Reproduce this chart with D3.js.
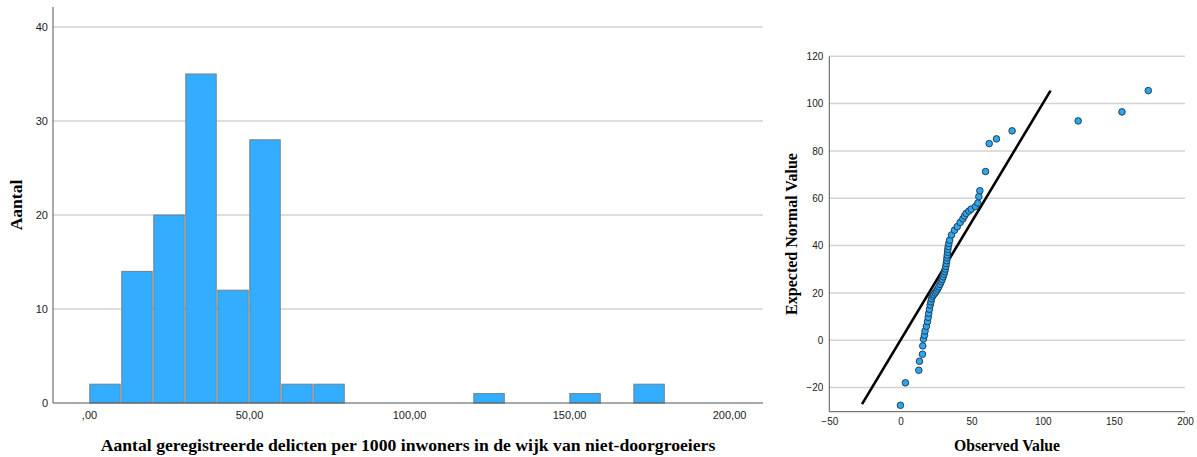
<!DOCTYPE html>
<html><head><meta charset="utf-8">
<script src="https://cdn.jsdelivr.net/npm/d3@7"></script>
<style>body{margin:0;background:#fff}svg{display:block}</style>
</head><body>
<svg id="c" width="1197" height="457"></svg>
<script>
// Histogram data (bin lower edges, width 10) and counts
const binStarts = [0, 10, 20, 30, 40, 50, 60, 70, 120, 150, 170];
const binCounts = [2, 14, 20, 35, 12, 28, 2, 2, 1, 1, 2];
const binWidth = 10;
const histXTicks = [0, 50, 100, 150, 200];
const histYTicks = [0, 10, 20, 30, 40];

// Q-Q plot data: observed value vs expected normal value
const qqObserved = [0, 3.5, 12.9, 13.4, 15.5, 15.7, 16.2, 16.9, 17.3, 18.3, 19.0, 19.5, 19.9, 20.4, 20.9, 21.4, 21.8, 22.6, 23.4, 24.4, 25.3, 26.2, 27.0, 27.8, 28.6, 29.3, 30.0, 30.6, 31.1, 31.5, 31.9, 32.2, 32.5, 32.7, 32.9, 33.1, 33.3, 33.6, 34.0, 34.6, 35.9, 38.0, 39.9, 42.0, 43.9, 45.0, 46.2, 48.1, 49.7, 52.7, 54.4, 55.1, 55.8, 59.8, 62.4, 67.5, 78.5, 124.9, 155.7, 174.2];
const qqExpected = [-27.5, -18.0, -12.7, -8.9, -5.9, -2.4, 0.5, 2.1, 3.9, 5.9, 7.9, 9.7, 11.4, 13.1, 14.9, 16.2, 17.5, 18.6, 19.3, 20.0, 20.8, 21.7, 22.6, 23.6, 24.7, 25.7, 26.8, 27.9, 29.0, 30.1, 31.2, 32.4, 33.6, 34.8, 36.0, 37.2, 38.4, 39.6, 40.9, 42.3, 44.5, 46.5, 48.0, 49.8, 51.3, 52.5, 53.6, 54.6, 55.4, 56.5, 58.0, 60.7, 63.2, 71.3, 83.1, 85.1, 88.5, 92.7, 96.5, 105.5];
const refLine = [-27, 105.5];
const qqXTicks = [-50, 0, 50, 100, 150, 200];
const qqYTicks = [-20, 0, 20, 40, 60, 80, 100, 120];

const svg = d3.select("#c");
const tickFont = "'Liberation Sans', Arial, sans-serif";
const titleFont = "'Liberation Serif', 'Times New Roman', serif";
const fmtComma = d => d === 0 ? ",00" : d3.format(".2f")(d).replace(".", ",");

// ---------- Histogram ----------
const hx = d3.scaleLinear().domain([-11.25, 210.6]).range([53, 763]);
const hy = d3.scaleLinear().domain([0, 40]).range([403, 27]);
const hg = svg.append("g");

hg.selectAll("line.grid").data(histYTicks.filter(d => d > 0)).join("line")
  .attr("x1", 53).attr("x2", 763)
  .attr("y1", d => hy(d)).attr("y2", d => hy(d))
  .attr("stroke", "#d3d3d3").attr("stroke-width", 1.5);

hg.selectAll("rect").data(binStarts).join("rect")
  .attr("x", d => hx(d) + 0.8)
  .attr("width", d => hx(d + binWidth) - hx(d) - 1.6)
  .attr("y", (d, i) => hy(binCounts[i]))
  .attr("height", (d, i) => hy(0) - hy(binCounts[i]))
  .attr("fill", "#33adff").attr("stroke", "#6f7f8c").attr("stroke-width", 1);

const hyAxis = d3.axisLeft(hy).tickValues(histYTicks).tickSize(0).tickPadding(5).tickFormat(d3.format("d"));
const hyG = hg.append("g").attr("transform", "translate(53,0)").call(hyAxis);
hyG.select(".domain").attr("d", "M0,7V403").attr("stroke", "#555");
hyG.selectAll("text").attr("font-family", tickFont).attr("font-size", 11).attr("fill", "#222");

const hxAxis = d3.axisBottom(hx).tickValues(histXTicks).tickSize(0).tickPadding(8).tickFormat(fmtComma);
const hxG = hg.append("g").attr("transform", "translate(0,403)").call(hxAxis);
hxG.select(".domain").attr("d", "M53,0H763").attr("stroke", "#555");
hxG.selectAll("text").attr("font-family", tickFont).attr("font-size", 11).attr("fill", "#222");

hg.append("text").attr("transform", "translate(22,205) rotate(-90)")
  .attr("text-anchor", "middle").attr("font-family", titleFont)
  .attr("font-weight", "bold").attr("font-size", 17.5).text("Aantal");
hg.append("text").attr("x", 408).attr("y", 451)
  .attr("text-anchor", "middle").attr("font-family", titleFont)
  .attr("font-weight", "bold").attr("font-size", 17.7)
  .text("Aantal geregistreerde delicten per 1000 inwoners in de wijk van niet-doorgroeiers");

// ---------- Q-Q plot ----------
const qx = d3.scaleLinear().domain([-50, 200]).range([829.3, 1185]);
const qy = d3.scaleLinear().domain([-30.2, 120]).range([411.7, 56.3]);
const qg = svg.append("g");

qg.selectAll("line.grid").data(qqYTicks).join("line")
  .attr("x1", 829).attr("x2", 1185)
  .attr("y1", d => qy(d)).attr("y2", d => qy(d))
  .attr("stroke", "#d3d3d3").attr("stroke-width", 1.5);

const qyAxis = d3.axisLeft(qy).tickValues(qqYTicks).tickSize(0).tickPadding(6).tickFormat(d3.format("d"));
const qyG = qg.append("g").attr("transform", "translate(829.3,0)").call(qyAxis);
qyG.select(".domain").attr("d", "M0,56.3V411.7").attr("stroke", "#555");
qyG.selectAll("text").attr("font-family", tickFont).attr("font-size", 10).attr("fill", "#222");

const qxAxis = d3.axisBottom(qx).tickValues(qqXTicks).tickSize(0).tickPadding(6).tickFormat(d3.format("d"));
const qxG = qg.append("g").attr("transform", "translate(0,411.7)").call(qxAxis);
qxG.select(".domain").attr("d", "M829.3,0H1185").attr("stroke", "#555");
qxG.selectAll("text").attr("font-family", tickFont).attr("font-size", 10).attr("fill", "#222");

qg.append("line")
  .attr("x1", qx(refLine[0])).attr("y1", qy(refLine[0]))
  .attr("x2", qx(refLine[1])).attr("y2", qy(refLine[1]))
  .attr("stroke", "#000").attr("stroke-width", 2.6);

qg.selectAll("circle").data(qqObserved).join("circle")
  .attr("cx", d => qx(d)).attr("cy", (d, i) => qy(qqExpected[i]))
  .attr("r", 3.3).attr("fill", "#2ea6ee").attr("stroke", "#1c3348").attr("stroke-width", 0.9);

qg.append("text").attr("transform", "translate(797,234) rotate(-90)")
  .attr("text-anchor", "middle").attr("font-family", titleFont)
  .attr("font-weight", "bold").attr("font-size", 16).text("Expected Normal Value");
qg.append("text").attr("x", 1007).attr("y", 451)
  .attr("text-anchor", "middle").attr("font-family", titleFont)
  .attr("font-weight", "bold").attr("font-size", 15.7).text("Observed Value");
</script>
</body></html>
